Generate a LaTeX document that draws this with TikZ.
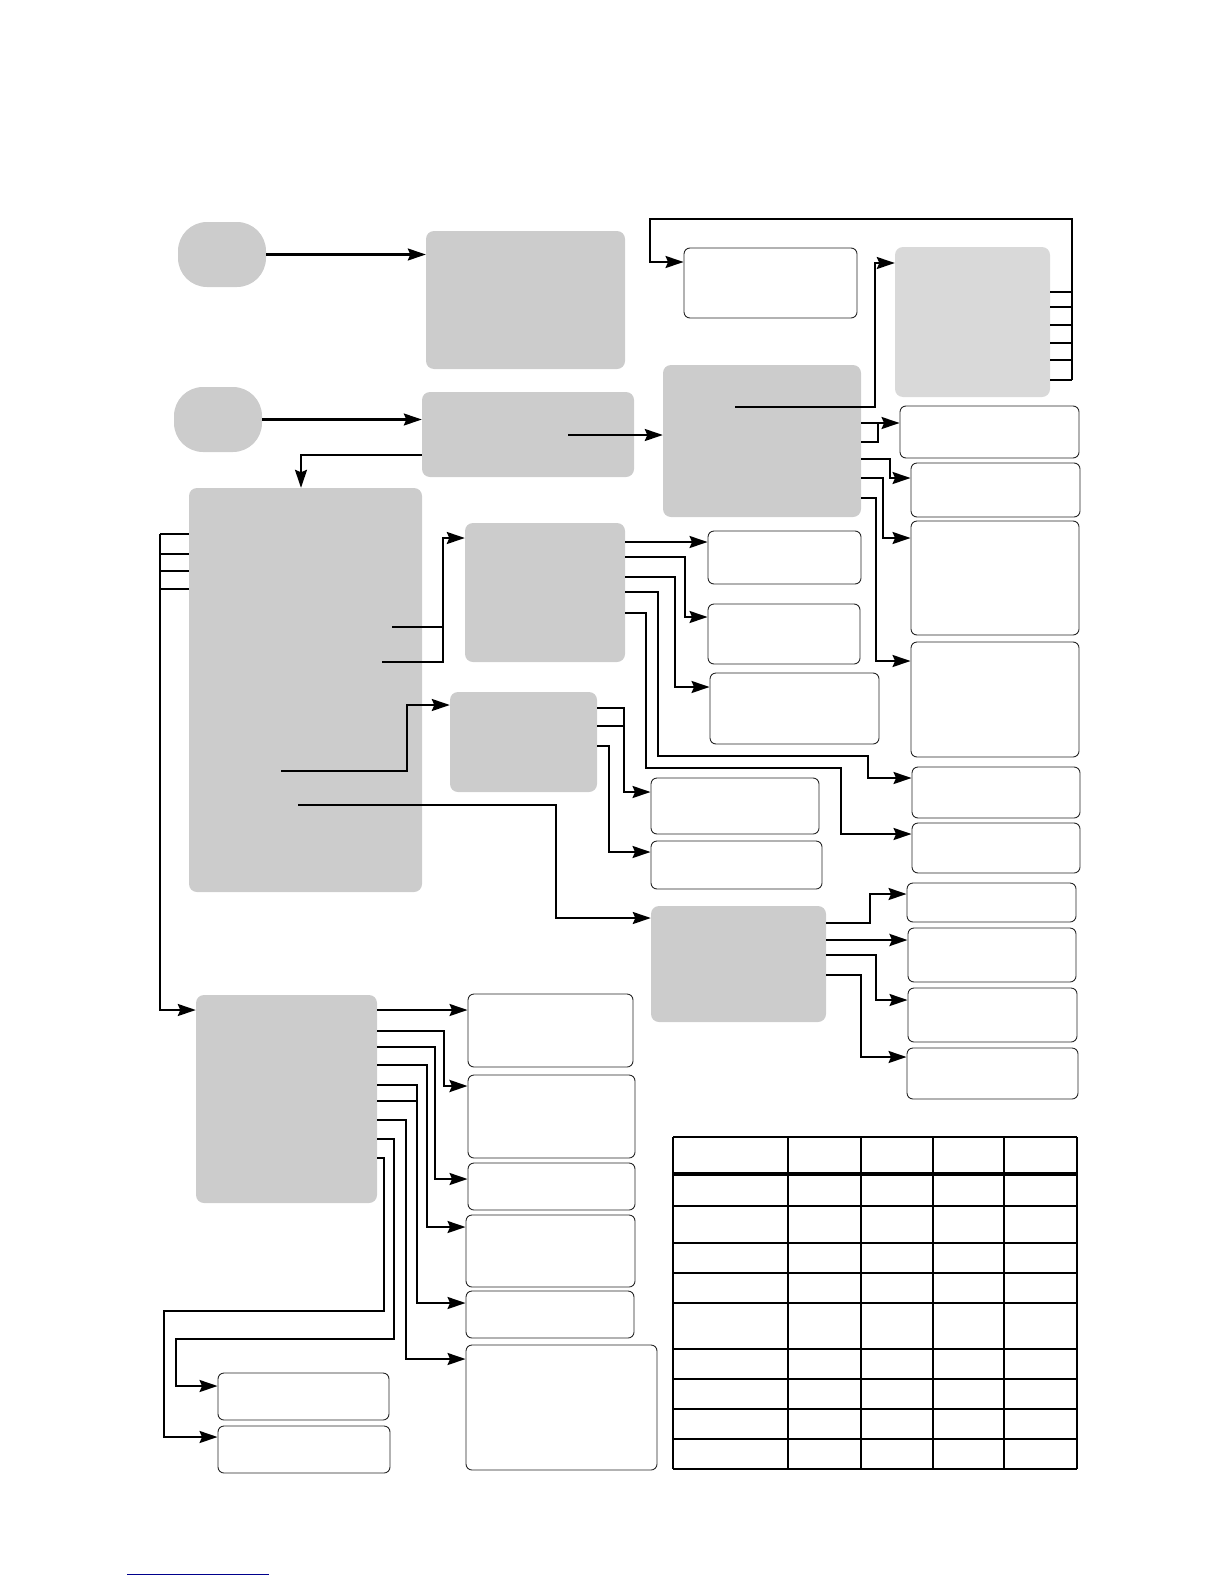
\documentclass[tikz,border=0pt]{standalone}
\usepackage{tikz}
\usetikzlibrary{arrows.meta,positioning,calc}
\definecolor{boxgray}{HTML}{CCCCCC}
\definecolor{boxlight}{HTML}{D9D9D9}
\tikzset{
  %% Shaded process boxes
  gbox/.style={fill=boxgray, rounded corners=8pt, inner sep=0pt},
  gboxlt/.style={fill=boxlight, rounded corners=8pt, inner sep=0pt},
  %% Start terminals
  term/.style={fill=boxgray, rounded corners=29pt, inner sep=0pt,
    minimum width=88pt, minimum height=65pt},
  %% Outlined result boxes
  wbox/.style={draw=black!85, line width=0.9pt, fill=white, rounded corners=6pt, inner sep=0pt},
  %% Connectors
  conn/.style={->, >={Stealth[length=18pt,width=12pt,inset=2.5pt]}, line width=2.1pt},
  link/.style={line width=2.1pt},
  heavy/.style={line width=2.8pt},
  gridline/.style={line width=1.3pt},
}
\begin{document}
\begin{tikzpicture}[x=1pt, y=-1pt]
\useasboundingbox (0,0) rectangle (1224,1584);

%% Terminals
\node[term] (e1) at (222,254.5) {};
\node[term] (e2) at (218,419.5) {};

%% Shaded boxes
\node[gbox, minimum width=199pt, minimum height=138pt] (g1)   at (525.5,300) {};
\node[gbox, minimum width=212pt, minimum height=85pt]  (g2)   at (528,434.5) {};
\node[gbox, minimum width=198pt, minimum height=152pt] (gc)   at (762,441) {};
\node[gboxlt, minimum width=155pt, minimum height=150pt] (gt) at (972.5,322) {};
\node[gbox, minimum width=233pt, minimum height=404pt] (gbig) at (305.5,690) {};
\node[gbox, minimum width=160pt, minimum height=139pt] (g3)   at (545,592.5) {};
\node[gbox, minimum width=147pt, minimum height=100pt] (g4)   at (523.5,742) {};
\node[gbox, minimum width=175pt, minimum height=116pt] (g5)   at (738.5,964) {};
\node[gbox, minimum width=181pt, minimum height=208pt] (g6)   at (286.5,1099) {};

%% Result boxes, upper right
\node[wbox, minimum width=173pt, minimum height=70pt]  (wA) at (770.5,283) {};
\node[wbox, minimum width=179pt, minimum height=52pt]  (wB) at (989.5,432) {};
\node[wbox, minimum width=169pt, minimum height=54pt]  (wC) at (995.5,490) {};
\node[wbox, minimum width=168pt, minimum height=114pt] (wI) at (995,578) {};
\node[wbox, minimum width=168pt, minimum height=115pt] (wJ) at (995,699.5) {};
\node[wbox, minimum width=168pt, minimum height=51pt]  (wK) at (996,792.5) {};
\node[wbox, minimum width=168pt, minimum height=50pt]  (wL) at (996,848) {};

%% Result boxes, middle
\node[wbox, minimum width=153pt, minimum height=53pt]  (wD) at (784.5,557.5) {};
\node[wbox, minimum width=152pt, minimum height=60pt]  (wE) at (784,634) {};
\node[wbox, minimum width=169pt, minimum height=71pt]  (wF) at (794.5,708.5) {};
\node[wbox, minimum width=168pt, minimum height=56pt]  (wG) at (735,806) {};
\node[wbox, minimum width=171pt, minimum height=48pt]  (wH) at (736.5,865) {};
\node[wbox, minimum width=169pt, minimum height=39pt]  (wU) at (991.5,902.5) {};
\node[wbox, minimum width=168pt, minimum height=54pt]  (wV) at (992,955) {};
\node[wbox, minimum width=169pt, minimum height=54pt]  (wW) at (992.5,1015) {};
\node[wbox, minimum width=171pt, minimum height=51pt]  (wX) at (992.5,1073.5) {};

%% Result boxes, lower
\node[wbox, minimum width=165pt, minimum height=73pt]  (wM) at (550.5,1030.5) {};
\node[wbox, minimum width=167pt, minimum height=83pt]  (wN) at (551.5,1116.5) {};
\node[wbox, minimum width=167pt, minimum height=47pt]  (wO) at (551.5,1186.5) {};
\node[wbox, minimum width=169pt, minimum height=72pt]  (wP) at (550.5,1251) {};
\node[wbox, minimum width=168pt, minimum height=47pt]  (wQ) at (550,1314.5) {};
\node[wbox, minimum width=191pt, minimum height=125pt] (wR) at (561.5,1407.5) {};
\node[wbox, minimum width=171pt, minimum height=47pt]  (wS) at (303.5,1396.5) {};
\node[wbox, minimum width=172pt, minimum height=47pt]  (wT) at (304,1449.5) {};

%% Inner start points
\coordinate (g2o) at (568,435);
\coordinate (gco) at (735,407);
\coordinate (bi1) at (392,627);
\coordinate (bi2) at (382,662);
\coordinate (bi3) at (281,771);
\coordinate (bi4) at (298,805);
\coordinate (busR) at (1072,380);
\coordinate (busL) at (160,534);

%% Top flow
\draw[conn] (e1.east) -- (e1.east -| g1.west);
\draw[conn] (e2.east) -- (e2.east -| g2.west);
\draw[conn] (g2o) -- (gc.west |- g2o);
\draw[conn] (g2.west |- 0,455) -| (301,0 |- gbig.north);
\draw[conn] (gco) -| (875,263) -- (gt.west |- 0,263);

%% Feedback loop
\foreach \yy in {307,325,343,360,380}
  \draw[link] (gt.east |- 0,\yy) -- (1072,\yy);
\draw[heavy] (gt.east |- 0,292) -- (1072,292);
\draw[conn] (busR) |- (650,219) |- (wA.west |- 0,262);

%% Centre box outputs
\draw[conn] (gc.east |- 0,423) -- (wB.west |- 0,423);
\draw[link] (gc.east |- 0,442) -| (878,423);
\draw[conn] (gc.east |- 0,459) -| (890,478) -- (wC.west |- 0,478);
\draw[conn] (gc.east |- 0,478) -| (883,538) -- (wI.west |- 0,538);
\draw[conn] (gc.east |- 0,498) -| (876,661) -- (wJ.west |- 0,661);

%% Big box outputs
\foreach \yy in {534,554,589}
  \draw[link] (gbig.west |- 0,\yy) -- (160,\yy);
\draw[heavy] (gbig.west |- 0,571) -- (160,571);
\draw[conn] (busL) |- (g6.west |- 0,1010);
\draw[link] (bi1) -- (443,627);
\draw[conn] (bi2) -| (443,538) -- (g3.west |- 0,538);
\draw[conn] (bi3) -| (407,705) -- (g4.west |- 0,705);
\draw[conn] (bi4) -| (556,918) -- (g5.west |- 0,918);

%% g3 outputs
\draw[conn] (g3.east |- 0,542) -- (wD.west |- 0,542);
\draw[conn] (g3.east |- 0,557) -| (685,617) -- (wE.west |- 0,617);
\draw[conn] (g3.east |- 0,577) -| (675,687) -- (wF.west |- 0,687);
\draw[conn] (g3.east |- 0,592) -| (658,756) -| (868,778) -- (wK.west |- 0,778);
\draw[conn] (g3.east |- 0,613) -| (646,768) -| (841,834) -- (wL.west |- 0,834);

%% g4 outputs
\draw[conn] (g4.east |- 0,708) -| (624,792) -- (wG.west |- 0,792);
\draw[link] (g4.east |- 0,726) -- (624,726);
\draw[conn] (g4.east |- 0,746) -| (609,852) -- (wH.west |- 0,852);

%% g5 outputs
\draw[conn] (g5.east |- 0,923) -| (870,894) -- (wU.west |- 0,894);
\draw[conn, heavy] (g5.east |- 0,940) -- (wV.west |- 0,940);
\draw[conn] (g5.east |- 0,955) -| (876,1000) -- (wW.west |- 0,1000);
\draw[conn] (g5.east |- 0,975) -| (861,1057) -- (wX.west |- 0,1057);

%% g6 outputs
\draw[conn] (g6.east |- 0,1010) -- (wM.west |- 0,1010);
\draw[conn, heavy] (g6.east |- 0,1031) -| (444,1086) -- (wN.west |- 0,1086);
\draw[conn] (g6.east |- 0,1047) -| (435,1179) -- (wO.west |- 0,1179);
\draw[conn] (g6.east |- 0,1065) -| (427,1227) -- (wP.west |- 0,1227);
\draw[conn] (g6.east |- 0,1085) -| (417,1303) -- (wQ.west |- 0,1303);
\draw[link] (g6.east |- 0,1101) -- (417,1101);
\draw[conn] (g6.east |- 0,1120) -| (406,1359) -- (wR.west |- 0,1359);
\draw[conn] (g6.east |- 0,1139) -| (394,1339) -| (176,1386) -- (wS.west |- 0,1386);
\draw[conn] (g6.east |- 0,1158) -| (384,1311) -| (164,1437) -- (wT.west |- 0,1437);

%% Table grid
\foreach \xx in {673,788,861,933,1004,1077}
  \draw[gridline] (\xx,1137) -- (\xx,1469);
\foreach \yy in {1137,1206,1243,1273,1303,1349,1379,1409,1439,1469}
  \draw[gridline] (673,\yy) -- (1077,\yy);
\draw[line width=3.6pt] (672,1174) -- (1078,1174);

%% Footer rule
\draw[blue!55!black, line width=1pt] (127,1574) -- (269,1574);
\end{tikzpicture}
\end{document}
